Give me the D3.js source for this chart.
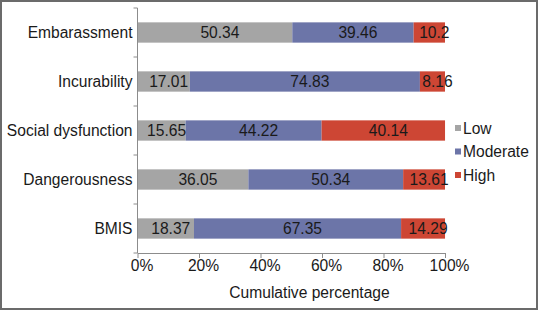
<!DOCTYPE html>
<html>
<head>
<meta charset="utf-8">
<script src="https://cdn.jsdelivr.net/npm/d3@7"></script>
<style>
  body { margin: 0; background: #fff; }
  svg { display: block; font-family: "Liberation Sans", Arial, sans-serif; }
</style>
</head>
<body>
<div id="chart"></div>
<script>
// data
const categories = ["Embarassment", "Incurability", "Social dysfunction", "Dangerousness", "BMIS"];
const seriesNames = ["Low", "Moderate", "High"];
const low = [50.34, 17.01, 15.65, 36.05, 18.37];
const moderate = [39.46, 74.83, 44.22, 50.34, 67.35];
const high = [10.2, 8.16, 40.14, 13.61, 14.29];
const xTicks = [0, 20, 40, 60, 80, 100];

const width = 538, height = 310,
    margin = ({ top: 8, right: 93, bottom: 57, left: 137.5 });
const fontSize = 15.6;

const colors = { Low: "#a5a5a5", Moderate: "#6c75a8", High: "#cd4634" };

// build rows for the stack
const rows = categories.map((c, i) => ({ cat: c, Low: low[i], Moderate: moderate[i], High: high[i] }));
const stacked = d3.stack().keys(seriesNames)(rows);

const svg = d3.select("#chart")
  .append("svg")
  .attr("width", width)
  .attr("height", height);

// outer frame
svg.append("rect")
  .attr("x", 1).attr("y", 1)
  .attr("width", width - 2).attr("height", height - 2)
  .attr("fill", "none")
  .attr("stroke", "#6b6b6b")
  .attr("stroke-width", 2);

const x = d3.scaleLinear()
  .domain([0, 100])
  .range([margin.left, width - margin.right]);

const y = d3.scaleBand()
  .domain(categories)
  .range([margin.top, height - margin.bottom])
  .paddingInner(0.586)
  .paddingOuter(0.293);

// bars
svg.append("g")
  .selectAll("g")
  .data(stacked)
  .join("g")
  .attr("fill", d => colors[d.key])
  .selectAll("rect")
  .data(d => d)
  .join("rect")
  .attr("x", d => x(d[0]))
  .attr("y", d => y(d.data.cat))
  .attr("width", d => x(d[1]) - x(d[0]))
  .attr("height", y.bandwidth());

// value labels
svg.append("g")
  .attr("font-size", fontSize)
  .attr("fill", "#1a1a1a")
  .selectAll("g")
  .data(stacked)
  .join("g")
  .selectAll("text")
  .data(d => d.map(s => ({ s, key: d.key })))
  .join("text")
  .attr("x", d => (x(d.s[0]) + x(d.s[1])) / 2 + 5)
  .attr("y", d => y(d.s.data.cat) + y.bandwidth() / 2 + 5)
  .attr("text-anchor", "middle")
  .text(d => d.s.data[d.key]);

// x axis
const xAxis = svg.append("g")
  .attr("transform", `translate(0,${height - margin.bottom})`)
  .call(d3.axisBottom(x).tickValues(xTicks).tickFormat(d => d + "%").tickSize(5).tickSizeOuter(0));
xAxis.select(".domain").attr("stroke", "#8c8c8c");
xAxis.selectAll(".tick line").attr("stroke", "#8c8c8c");
xAxis.selectAll(".tick text")
  .attr("font-size", fontSize)
  .attr("font-family", "Liberation Sans, Arial, sans-serif")
  .attr("fill", "#1a1a1a")
  .attr("dy", "0.5em")
  .attr("x", 4)
  .attr("y", 10);

// y axis line with ticks at the band edges
const yAxis = svg.append("g");
yAxis.append("line")
  .attr("x1", x(0)).attr("x2", x(0))
  .attr("y1", y.range()[0]).attr("y2", y.range()[1])
  .attr("stroke", "#8c8c8c");
yAxis.selectAll(".edge")
  .data(d3.range(categories.length + 1))
  .join("line")
  .attr("class", "edge")
  .attr("x1", x(0) - 4).attr("x2", x(0))
  .attr("y1", i => y.range()[0] + i * y.step())
  .attr("y2", i => y.range()[0] + i * y.step())
  .attr("stroke", "#8c8c8c");

// category labels
svg.append("g")
  .attr("font-size", fontSize)
  .attr("fill", "#1a1a1a")
  .attr("text-anchor", "end")
  .selectAll("text")
  .data(categories)
  .join("text")
  .attr("x", x(0) - 5)
  .attr("y", d => y(d) + y.bandwidth() / 2 + 5)
  .text(d => d);

// axis title
svg.append("text")
  .attr("x", 309.5)
  .attr("y", 298)
  .attr("text-anchor", "middle")
  .attr("font-size", fontSize)
  .attr("fill", "#1a1a1a")
  .text("Cumulative percentage");

// legend
const legend = svg.append("g")
  .selectAll("g")
  .data(seriesNames)
  .join("g")
  .attr("transform", (d, i) => `translate(455,${128 + i * 23.5})`);
legend.append("rect")
  .attr("x", 0).attr("y", -3)
  .attr("width", 6).attr("height", 6)
  .attr("fill", d => colors[d]);
legend.append("text")
  .attr("x", 8)
  .attr("y", 5.5)
  .attr("font-size", fontSize)
  .attr("fill", "#1a1a1a")
  .text(d => d);
</script>
</body>
</html>
